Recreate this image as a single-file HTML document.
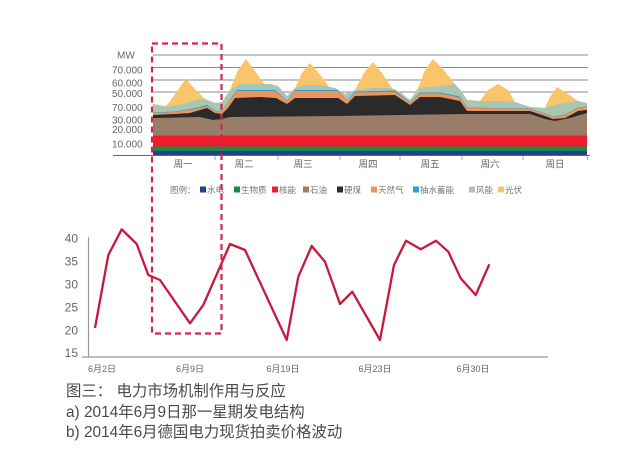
<!DOCTYPE html>
<html><head><meta charset="utf-8"><style>
html,body{margin:0;padding:0;background:#fff;}
svg{display:block;}
text{font-family:"Liberation Sans","Noto Sans CJK SC",sans-serif;}
</style></head><body>
<svg width="625" height="457" viewBox="0 0 625 457" xmlns="http://www.w3.org/2000/svg">
<rect width="625" height="457" fill="#fff"/>
<!-- top chart gridlines -->
<g stroke="#8a8a8a" stroke-width="1">
<line x1="153" y1="55" x2="588" y2="55"/>
<line x1="153" y1="67.5" x2="588" y2="67.5"/>
<line x1="153" y1="80" x2="588" y2="80"/>
<line x1="153" y1="92" x2="588" y2="92"/>
</g>
<g font-size="10" fill="#666">
<text x="117" y="58.5">MW</text>
<text x="112" y="73.5">70.000</text>
<text x="112" y="86.5">60.000</text>
<text x="112" y="97">50.000</text>
<text x="112" y="111">70.000</text>
<text x="112" y="123.5">30.000</text>
<text x="112" y="133">20.000</text>
<text x="112" y="147.5">10.000</text>
</g>
<!-- solar -->
<polygon fill="#f8c56a" points="153,155 153,104 165,106 168,104 178,90 186,79 194,88 205,99 215,103 222,102 230,90 237,72 246,59 254,70 265,85 270,84 278,86 287,96 295,88 302,73 310,63 318,72 330,88 335,88 345,94 355,90 364,73 373,62 382,73 392,88 400,92 410,100 418,88 425,70 433,59 442,68 455,84 462,92 467,100 480,101 488,90 498,84 508,90 515,102 530,107 545,108 550,97 557,87 568,94 578,101 587,103 587,155"/>
<!-- wind -->
<polygon fill="#a9c6b3" points="153,155 153,104 165,107 180,105 195,100 205,99 215,103 222,102 230,90 240,84 255,84 270,84 278,86 287,96 295,88 305,85 320,85 335,88 345,94 355,90 370,88 390,88 400,92 410,100 420,88 440,86 455,84 462,92 467,100 480,101 500,101 515,102 530,107 545,108 560,104 578,101 587,103 587,155"/>
<!-- pumped hydro -->
<polygon fill="#2d9fd6" points="153,155 153,112.5 175,111.5 200,107 207,105 215,110.5 222,111.5 230,99.5 237,90 275,90 287,100.5 295,90 338,90 347,100.5 355,91.5 395,90.5 410,102.5 420,92.5 440,92.5 460,96.5 467,107.5 530,108.5 545,113.5 553,116.5 565,114.5 578,107.5 587,106.5 587,155"/>
<!-- gas -->
<polygon fill="#ef9458" points="153,155 153,113 175,112 200,108 207,106 215,111 222,112 230,100 237,91 275,91 287,101 295,91 338,91 347,101 355,92.5 395,92 410,103 420,93.5 440,93.5 460,97.5 467,108 530,109 545,114 553,117 565,115 578,108 587,107 587,155"/>
<!-- hard coal -->
<polygon fill="#2a2a2a" points="153,155 153,115 175,114 190,113 200,110 207,108 215,113 222,114 228,108 235,98 260,97 276,98 287,104 295,98 320,98 338,98 347,104 355,96 395,95 410,105 420,97 440,97 460,101 467,111 530,111 545,116 553,119 565,118 578,111 587,110 587,155"/>
<!-- lignite -->
<polygon fill="#9a7d68" points="153,155 153,118 200,117 213,120 222,119 230,117 340,116 400,115 465,114 530,114 545,119 555,121 570,118 587,113 587,155"/>
<!-- nuclear -->
<rect x="153" y="135.5" width="434" height="11" fill="#ee1c2e"/>
<!-- biomass -->
<rect x="153" y="146.5" width="434" height="4.5" fill="#1b8a45"/>
<!-- hydro -->
<rect x="153" y="151" width="434" height="4" fill="#233f8e"/>
<!-- x axis -->
<line x1="113" y1="155.5" x2="590" y2="155.5" stroke="#666" stroke-width="1"/>
<g stroke="#aaa" stroke-width="1">
<line x1="215" y1="156" x2="215" y2="160"/>
<line x1="278" y1="156" x2="278" y2="160"/>
<line x1="340" y1="156" x2="340" y2="160"/>
<line x1="400" y1="156" x2="400" y2="160"/>
<line x1="462" y1="156" x2="462" y2="160"/>
<line x1="523" y1="156" x2="523" y2="160"/>
<line x1="587.5" y1="156" x2="587.5" y2="160"/>
</g>
<g font-size="9.5" fill="#666" text-anchor="middle">
<text x="183" y="167.5">周一</text>
<text x="244" y="167.5">周二</text>
<text x="303" y="167.5">周三</text>
<text x="368" y="167.5">周四</text>
<text x="430" y="167.5">周五</text>
<text x="490" y="167.5">周六</text>
<text x="555" y="167.5">周日</text>
</g>
<!-- legend -->
<g font-size="8.5" fill="#777">
<text x="170" y="193">图例：</text>
<rect x="200" y="186.5" width="6" height="6" fill="#233f8e"/><text x="207" y="193">水电</text>
<rect x="234" y="186.5" width="6" height="6" fill="#1b8a45"/><text x="241" y="193">生物质</text>
<rect x="272" y="186.5" width="6" height="6" fill="#ee1c2e"/><text x="279" y="193">核能</text>
<rect x="303" y="186.5" width="6" height="6" fill="#9a7d68"/><text x="310" y="193">石油</text>
<rect x="337" y="186.5" width="6" height="6" fill="#2a2a2a"/><text x="344" y="193">硬煤</text>
<rect x="371" y="186.5" width="6" height="6" fill="#ef9458"/><text x="378" y="193">天然气</text>
<rect x="413" y="186.5" width="6" height="6" fill="#2d9fd6"/><text x="420" y="193">抽水蓄能</text>
<rect x="469" y="186.5" width="6" height="6" fill="#bbb"/><text x="476" y="193">风能</text>
<rect x="498" y="186.5" width="6" height="6" fill="#f8c56a"/><text x="505" y="193">光伏</text>
</g>
<!-- lower chart axes -->
<line x1="88.5" y1="237" x2="88.5" y2="357" stroke="#999" stroke-width="1.2"/>
<line x1="82" y1="357" x2="548" y2="357" stroke="#999" stroke-width="1.2"/>
<g font-size="12" fill="#666" text-anchor="end">
<text x="78" y="242.5">40</text>
<text x="78" y="265.5">35</text>
<text x="78" y="288.5">30</text>
<text x="78" y="311.5">25</text>
<text x="78" y="334.5">20</text>
<text x="78" y="357">15</text>
</g>
<g font-size="9" fill="#666" text-anchor="middle">
<text x="102" y="372">6月2日</text>
<text x="190" y="372">6月9日</text>
<text x="283" y="372">6月19日</text>
<text x="375" y="372">6月23日</text>
<text x="473" y="372">6月30日</text>
</g>
<!-- price line -->
<polyline fill="none" stroke="#c8193c" stroke-width="2.3" stroke-linejoin="round" points="95,328 108.3,255 121.7,229.3 136.7,244 148.3,275 160,280 190,323.3 203.3,305 230,244 245,250 286.7,340 298.3,276.7 311.7,246 325,261.7 340,304 352.3,291.7 380,340 394,265 406,240.7 420.7,249.3 436,240.7 448.3,251.7 460.7,278.3 475.7,295 489.3,264.3"/>
<!-- dashed highlight box -->
<rect x="152" y="43.5" width="69.5" height="290" fill="none" stroke="#d0284c" stroke-width="2.2" stroke-dasharray="6,4"/>
<!-- caption -->
<g font-size="15.4" fill="#4a4a4a">
<text x="66" y="396">图三： 电力市场机制作用与反应</text>
<text x="66" y="417">a) 2014年6月9日那一星期发电结构</text>
<text x="66" y="437">b) 2014年6月德国电力现货拍卖价格波动</text>
</g>
</svg>
</body></html>
